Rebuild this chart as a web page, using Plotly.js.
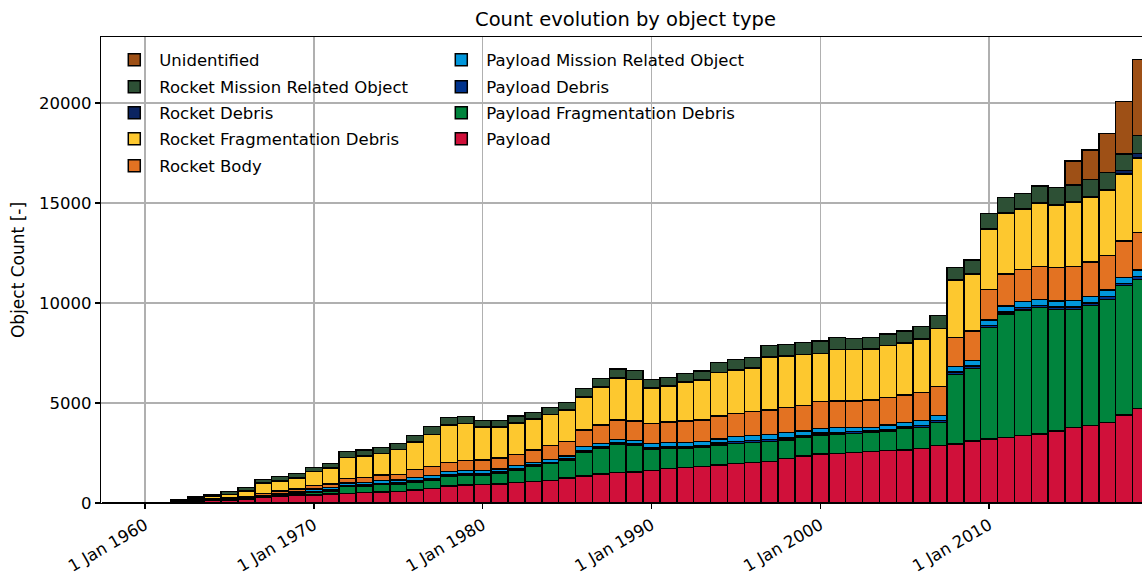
<!DOCTYPE html>
<html>
<head>
<meta charset="utf-8">
<script src="https://cdn.plot.ly/plotly-3.0.1.min.js"></script>
<style>
html, body { margin: 0; padding: 0; background: #ffffff; overflow: hidden; width: 1142px; height: 578px; }
#chart { width: 1150px; height: 578px; }
</style>
</head>
<body>
<div id="chart"></div>
<script>
const years = [1958,1959,1960,1961,1962,1963,1964,1965,1966,1967,1968,1969,
  1970,1971,1972,1973,1974,1975,1976,1977,1978,1979,
  1980,1981,1982,1983,1984,1985,1986,1987,1988,1989,
  1990,1991,1992,1993,1994,1995,1996,1997,1998,1999,
  2000,2001,2002,2003,2004,2005,2006,2007,2008,2009,
  2010,2011,2012,2013,2014,2015,2016,2017,2018,2019];

const payload = [2,3,5,15,60,90,120,140,180,280,330,370,
  400,450,483,517,550,583,650,717,850,900,
  933,950,1017,1083,1117,1250,1350,1450,1517,1550,
  1633,1733,1783,1817,1900,1983,2017,2067,2233,2350,
  2450,2483,2533,2567,2617,2650,2733,2867,2950,3100,
  3200,3280,3367,3450,3600,3767,3867,4017,4400,4717];

const payloadFragDebris = [0,0,0,0,0,0,5,15,30,30,50,80,
  120,150,333,333,367,350,367,433,500,500,
  450,517,633,750,850,867,1200,1267,1416,1317,
  1067,984,934,950,1000,1000,1016,1000,917,917,
  950,967,950,950,983,1067,1050,1166,3483,3633,
  5583,6170,6283,6317,6083,5916,6016,6166,6467,6466];

const payloadDebris = [0,0,0,0,0,5,5,10,15,20,25,30,
  50,50,60,60,65,70,80,70,70,70,
  75,75,70,60,70,75,80,80,75,75,
  85,90,90,90,90,95,95,100,100,90,
  90,85,80,75,85,85,95,95,110,110,
  100,110,115,115,120,120,120,130,120,130];

const payloadMissionObj = [0,0,0,0,0,5,10,20,30,40,50,70,
  125,130,125,123,135,147,186,147,147,147,
  159,158,147,124,146,158,187,186,175,175,
  198,226,226,210,210,239,239,266,267,243,
  243,232,204,191,215,215,239,239,274,272,
  267,290,302,301,297,314,314,337,296,337];

const rocketBody = [1,1,2,8,25,40,50,60,80,100,150,150,
  170,170,233,233,283,283,400,450,466,500,
  533,550,550,633,700,733,833,917,967,983,
  1000,1017,1067,1083,1150,1166,1200,1217,1266,1267,
  1334,1333,1333,1367,1367,1383,1400,1450,1450,1485,
  1533,1600,1616,1634,1683,1700,1733,1717,1817,1867];

const rocketFragDebris = [0,0,1,5,60,110,150,180,260,530,490,560,
  700,800,1035,1085,1068,1235,1364,1596,1864,1846,
  1630,1547,1580,1547,1530,1547,1647,1897,2097,2063,
  1764,1780,1930,1980,2163,2147,2180,2647,2564,2546,
  2396,2563,2563,2547,2596,2597,2663,2896,2853,2820,
  3020,3037,2987,3186,3120,3220,3227,3256,3350,3733];

const rocketDebris = [0,0,0,0,0,0,0,5,5,10,10,10,
  15,15,15,15,15,15,20,20,20,20,
  20,20,20,20,20,20,20,20,20,20,
  20,20,20,20,20,20,20,20,20,20,
  20,20,20,20,20,20,20,20,30,30,
  30,30,30,30,30,30,40,60,167,233];

const rocketMissionObj = [0,1,2,7,40,70,95,140,180,170,210,200,
  205,216,284,283,284,300,316,384,366,350,
  317,300,333,316,350,383,416,416,433,434,
  416,433,433,450,500,533,500,550,566,584,
  617,584,534,550,567,583,617,634,617,700,
  747,748,783,817,834,833,866,834,833,900];

const unidentified = [0,0,0,0,0,0,0,0,0,0,0,0,
  0,0,0,0,0,0,0,0,0,0,
  0,0,0,0,0,0,0,0,0,0,
  0,0,0,0,0,0,0,0,0,0,
  0,0,0,0,0,0,0,0,0,0,
  0,0,0,0,0,1200,1467,1966,2617,3800];

const tickYears = [1960, 1970, 1980, 1990, 2000, 2010];
const tickLabels = ["1 Jan 1960", "1 Jan 1970", "1 Jan 1980", "1 Jan 1990", "1 Jan 2000", "1 Jan 2010"];

// stacking order bottom -> top
const seriesNames = ["Payload", "Payload Fragmentation Debris", "Payload Debris",
  "Payload Mission Related Object", "Rocket Body", "Rocket Fragmentation Debris",
  "Rocket Debris", "Rocket Mission Related Object", "Unidentified"];
const seriesValues = [payload, payloadFragDebris, payloadDebris, payloadMissionObj,
  rocketBody, rocketFragDebris, rocketDebris, rocketMissionObj, unidentified];
const seriesColors = ["#D0103A", "#00843D", "#00338D", "#0096DB", "#E37222",
  "#FDC82F", "#0B2461", "#2D5035", "#9E5016"];
// legend row of each series (two columns, five rows as in the reference)
const legendRow = [4, 3, 2, 1, 5, 4, 3, 2, 1];

const font = "DejaVu Sans, Liberation Sans, sans-serif";

const traces = seriesNames.map((name, i) => ({
  type: "bar",
  name: name,
  x: years,
  y: seriesValues[i],
  width: 1,
  marker: { color: seriesColors[i], line: { color: "#000000", width: 1.5 } },
  legend: legendRow[i] === 1 ? "legend" : "legend" + legendRow[i],
  hoverinfo: "x+y+name"
}));

const rowCentersPaper = [0.9506, 0.8927, 0.8369, 0.7811, 0.7232];

const layout = {
  width: 1150,
  height: 578,
  margin: { l: 101, r: 0, t: 37, b: 75 },
  paper_bgcolor: "#ffffff",
  plot_bgcolor: "#ffffff",
  barmode: "stack",
  bargap: 0,
  font: { family: font, size: 16, color: "#000000" },
  title: { text: "Count evolution by object type", x: 0.5, xref: "paper", xanchor: "center",
           y: 1, yref: "container", yanchor: "top", pad: { t: 12 },
           font: { family: font, size: 19.5, color: "#000000" } },
  xaxis: {
    range: [1957.39, 2019.53],
    tickvals: tickYears,
    ticktext: tickLabels,
    tickangle: -30,
    ticks: "outside", ticklen: 5, tickwidth: 1.3, tickcolor: "#000000",
    showline: true, linecolor: "#000000", linewidth: 1.3, mirror: true,
    showgrid: true, gridcolor: "#b0b0b0", gridwidth: 1.3,
    zeroline: false,
    tickfont: { family: font, size: 16.5, color: "#000000" }
  },
  yaxis: {
    range: [0, 23300],
    tickvals: [0, 5000, 10000, 15000, 20000],
    ticktext: ["0", "5000", "10000", "15000", "20000"],
    ticks: "outside", ticklen: 5, tickwidth: 1.3, tickcolor: "#000000",
    showline: true, linecolor: "#000000", linewidth: 1.3, mirror: true,
    showgrid: true, gridcolor: "#b0b0b0", gridwidth: 1.3,
    zeroline: false,
    tickfont: { family: font, size: 16.5, color: "#000000" },
    title: { text: "Object Count [-]", standoff: 10, font: { family: font, size: 17, color: "#000000" } }
  },
  showlegend: true
};

rowCentersPaper.forEach((yc, r) => {
  const key = r === 0 ? "legend" : "legend" + (r + 1);
  layout[key] = {
    x: 0.0079, y: yc, xanchor: "left", yanchor: "middle",
    orientation: "h",
    bgcolor: "rgba(0,0,0,0)", borderwidth: 0,
    traceorder: "reversed",
    font: { family: font, size: 16.5, color: "#000000" },
    itemwidth: 40,
    entrywidth: 272, entrywidthmode: "pixels"
  };
});

Plotly.newPlot("chart", traces, layout, { displayModeBar: false, staticPlot: true });
</script>
</body>
</html>
